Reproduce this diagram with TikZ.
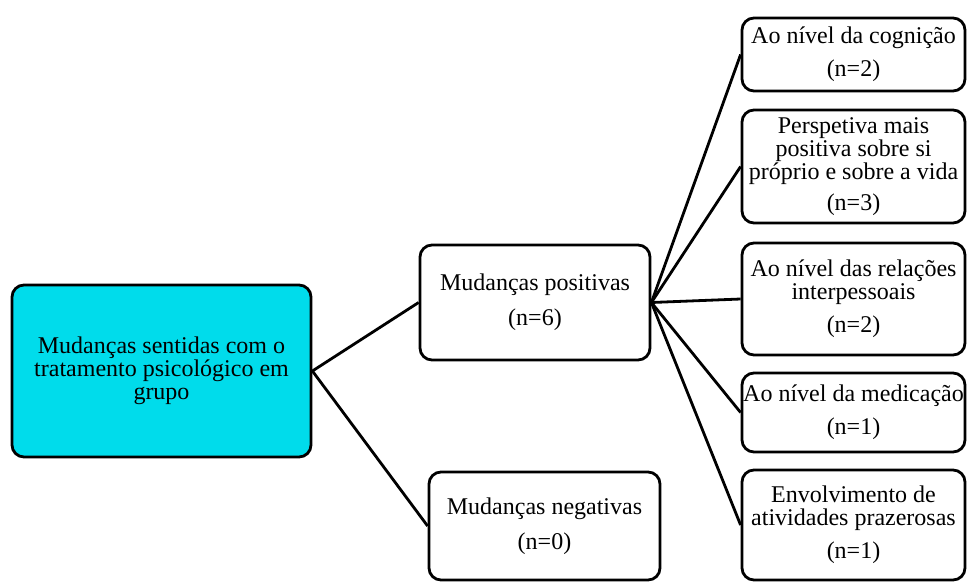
\documentclass[tikz,border=0pt]{standalone}
\usepackage{fontspec}
\setmainfont{Liberation Serif}
\usetikzlibrary{positioning}
\definecolor{rootcyan}{RGB}{0,220,235}
\tikzset{
	box/.style={draw, line width=2.8pt, rounded corners=12pt, align=center, inner sep=0pt,
		font=\fontsize{24}{23}\selectfont},
	rootbox/.style={box, fill=rootcyan},
	link/.style={line width=2.8pt}
}

\begin{document}
\begin{tikzpicture}[x=1pt, y=-1pt]
	\useasboundingbox (0,0) rectangle (968,581);
	% --- Root ---
	\node[rootbox, minimum width=299pt, minimum height=172pt] (root) at (161.5,371) {Mudanças sentidas com o\\tratamento psicológico em\\grupo};
	
	% --- Second level ---
	\node[box, minimum width=230pt, minimum height=115pt] (pos) at (535,302.5) {Mudanças positivas\\[12pt](n=6)};
	\node[box, minimum width=231pt, minimum height=108pt] (neg) at (544.5,526) {Mudanças negativas\\[12pt](n=0)};
	
	% --- Third level ---
	\node[box, minimum width=223pt, minimum height=73pt] (cog) at (853.5,54.5) {Ao nível da cognição\\[10pt](n=2)};
	\node[box, minimum width=223pt, minimum height=113pt] (persp) at (853.5,166.5) {Perspetiva mais\\positiva sobre si\\próprio e sobre a vida\\[8pt](n=3)};
	\node[box, minimum width=223pt, minimum height=112pt] (rel) at (853.5,299) {Ao nível das relações\\interpessoais\\[10pt](n=2)};
	\node[box, minimum width=223pt, minimum height=79pt] (med) at (853.5,412.5) {Ao nível da medicação\\[10pt](n=1)};
	\node[box, minimum width=223pt, minimum height=110pt] (ativ) at (853.5,525) {Envolvimento de\\atividades prazerosas\\[10pt](n=1)};
	
	% Links
	\draw[link] (root.east) -- (pos.west);
	\draw[link] (root.east) -- (neg.west);
	\foreach \n in {cog,persp,rel,med,ativ} \draw[link] (pos.east) -- (\n.west);
\end{tikzpicture}
\end{document}
